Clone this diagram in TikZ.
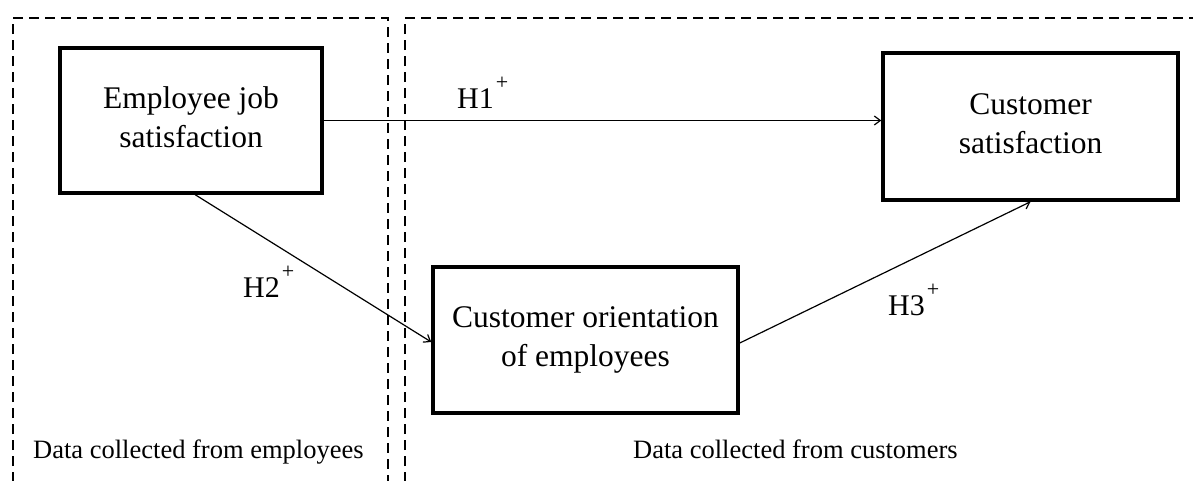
\documentclass[tikz,border=0pt]{standalone}
\usepackage{fontspec}
\setmainfont{Liberation Serif}
\usetikzlibrary{arrows.meta}
\begin{document}
\begin{tikzpicture}[x=1pt,y=-1pt,
  concept/.style={draw, line width=3.5pt, align=center, inner sep=0pt,
    font=\fontsize{31.5}{39}\selectfont},
  link/.style={line width=1.2pt, -{Straight Barb[length=6pt,width=9pt,line width=1.2pt]}},
  region/.style={line width=2.2pt, dash pattern=on 10pt off 6pt},
  hlabel/.style={anchor=base west, inner sep=0pt, font=\fontsize{30}{36}\selectfont},
  dlabel/.style={anchor=base west, inner sep=0pt, font=\fontsize{26.5}{30}\selectfont}]
\useasboundingbox (0,0) rectangle (1193,480);
\begin{scope}
\clip (0,0) rectangle (1193,480);
\draw[region] (13,482) -- (13,18) -- (388,18) -- (388,482);
\draw[region] (405,482) -- (405,18) -- (1196,18);
\end{scope}
\node[concept, minimum width=262pt, minimum height=145pt] (emp) at (191,120.5)
  {Employee job\\satisfaction\\[-33pt]};
\node[concept, minimum width=295pt, minimum height=147pt] (cs) at (1030.5,126.5)
  {Customer\\satisfaction\\[-33pt]};
\node[concept, minimum width=305pt, minimum height=146pt] (co) at (585.5,340)
  {Customer orientation\\of employees\\[-33pt]};
\coordinate (h2s) at ([xshift=137pt]emp.south west);
\draw[link] (emp.east) -- (emp.east -| cs.west);
\draw[link] (h2s) -- ([yshift=-2pt]co.west);
\draw[link] ([yshift=-3pt]co.east) -- (cs.south);
\node[hlabel] (h1) at (457,108) {H1\kern2pt\raisebox{19pt}{\fontsize{22}{22}\selectfont +}};
\node[hlabel] (h2) at (243,297) {H2\kern2pt\raisebox{19pt}{\fontsize{22}{22}\selectfont +}};
\node[hlabel] (h3) at (888,315) {H3\kern2pt\raisebox{19pt}{\fontsize{22}{22}\selectfont +}};
\node[dlabel] (de) at (33,458) {Data collected from employees};
\node[dlabel] (dc) at (633,458) {Data collected from customers};
\end{tikzpicture}
\end{document}
